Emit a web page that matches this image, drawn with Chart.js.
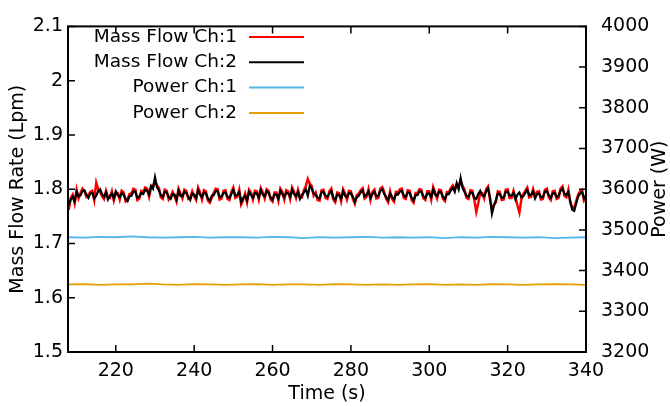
<!DOCTYPE html>
<html>
<head>
<meta charset="utf-8">
<script src="https://cdn.jsdelivr.net/npm/chart.js@4.4.1/dist/chart.umd.min.js"></script>
<style>
  body { margin: 0; background: #fff; }
  canvas { display: block; }
</style>
</head>
<body>
<canvas id="myChart" width="670" height="407"></canvas>
<script>
// sampling of the traces (s)
const flowStart = 208, flowStep = 0.5;
const powerStart = 208, powerStep = 4;

// Mass flow, channel 1 (Lpm), 10 s per row
const massFlowCh1 = [
  1.762,1.784,1.790,1.774,1.799,1.783,1.793,1.801,1.796,1.786,1.789,1.795,1.797,1.780,1.812,1.800,1.795,1.787,1.782,1.797,
  1.785,1.784,1.796,1.779,1.793,1.793,1.781,1.797,1.794,1.778,1.782,1.791,1.792,1.801,1.799,1.780,1.783,1.797,1.795,1.803,
  1.801,1.786,1.804,1.806,1.815,1.807,1.802,1.785,1.782,1.799,1.797,1.781,1.786,1.795,1.787,1.777,1.801,1.792,1.783,1.799,
  1.797,1.782,1.784,1.796,1.787,1.780,1.803,1.794,1.781,1.798,1.796,1.779,1.775,1.784,1.793,1.801,1.800,1.781,1.783,1.797,
  1.798,1.782,1.780,1.795,1.803,1.784,1.786,1.799,1.772,1.780,1.792,1.776,1.799,1.794,1.781,1.797,1.796,1.781,1.802,1.794,
  1.783,1.800,1.797,1.781,1.777,1.794,1.794,1.779,1.801,1.795,1.781,1.798,1.796,1.782,1.803,1.795,1.784,1.799,1.786,1.785,
  1.798,1.806,1.819,1.810,1.806,1.788,1.794,1.780,1.779,1.798,1.799,1.784,1.782,1.796,1.801,1.781,1.776,1.794,1.793,1.778,
  1.800,1.792,1.781,1.797,1.796,1.782,1.773,1.789,1.792,1.798,1.802,1.783,1.786,1.800,1.780,1.795,1.799,1.783,1.784,1.801,
  1.804,1.795,1.782,1.776,1.796,1.782,1.777,1.795,1.794,1.800,1.801,1.784,1.782,1.798,1.797,1.780,1.775,1.793,1.793,1.800,
  1.799,1.783,1.780,1.796,1.796,1.781,1.804,1.794,1.783,1.799,1.798,1.782,1.778,1.795,1.795,1.802,1.807,1.799,1.809,1.804,
  1.816,1.806,1.799,1.784,1.782,1.798,1.797,1.780,1.758,1.774,1.793,1.793,1.783,1.800,1.805,1.781,1.762,1.771,1.776,1.796,
  1.795,1.780,1.781,1.799,1.800,1.784,1.784,1.797,1.785,1.770,1.757,1.781,1.791,1.797,1.803,1.785,1.786,1.800,1.787,1.795,
  1.796,1.781,1.782,1.799,1.801,1.785,1.780,1.796,1.797,1.782,1.784,1.801,1.805,1.788,1.785,1.799,1.774,1.766,1.766,1.778,
  1.790,1.796,1.799,1.779,1.784
];

// Mass flow, channel 2 (Lpm), 10 s per row
const massFlowCh2 = [
  1.770,1.781,1.786,1.778,1.795,1.787,1.789,1.797,1.798,1.790,1.784,1.792,1.793,1.783,1.788,1.796,1.800,1.791,1.786,1.794,
  1.781,1.788,1.792,1.783,1.796,1.789,1.785,1.793,1.790,1.782,1.778,1.787,1.788,1.796,1.795,1.784,1.786,1.793,1.791,1.799,
  1.797,1.790,1.806,1.801,1.822,1.804,1.798,1.789,1.786,1.795,1.794,1.785,1.782,1.791,1.790,1.781,1.797,1.788,1.787,1.795,
  1.793,1.786,1.780,1.792,1.790,1.784,1.798,1.790,1.785,1.794,1.792,1.783,1.779,1.788,1.789,1.797,1.796,1.785,1.787,1.793,
  1.794,1.786,1.784,1.791,1.799,1.788,1.789,1.795,1.776,1.784,1.788,1.779,1.795,1.790,1.784,1.793,1.792,1.785,1.798,1.790,
  1.787,1.796,1.793,1.785,1.781,1.790,1.790,1.783,1.797,1.791,1.785,1.794,1.792,1.786,1.799,1.791,1.787,1.795,1.782,1.789,
  1.794,1.800,1.788,1.806,1.801,1.792,1.790,1.784,1.783,1.794,1.795,1.788,1.786,1.792,1.797,1.785,1.780,1.790,1.789,1.782,
  1.796,1.788,1.785,1.793,1.792,1.786,1.777,1.785,1.788,1.794,1.798,1.787,1.790,1.796,1.784,1.791,1.795,1.787,1.788,1.797,
  1.800,1.791,1.786,1.780,1.792,1.786,1.781,1.791,1.790,1.796,1.797,1.788,1.786,1.794,1.793,1.784,1.779,1.789,1.789,1.796,
  1.795,1.787,1.784,1.792,1.792,1.785,1.800,1.790,1.787,1.795,1.794,1.786,1.782,1.791,1.791,1.798,1.803,1.795,1.811,1.800,
  1.821,1.802,1.795,1.788,1.786,1.794,1.793,1.784,1.782,1.791,1.797,1.789,1.787,1.796,1.801,1.785,1.755,1.770,1.780,1.792,
  1.791,1.784,1.785,1.795,1.796,1.788,1.788,1.793,1.781,1.790,1.794,1.785,1.787,1.793,1.799,1.789,1.790,1.796,1.783,1.791,
  1.792,1.785,1.786,1.795,1.797,1.789,1.784,1.792,1.793,1.786,1.788,1.797,1.801,1.792,1.789,1.795,1.778,1.762,1.760,1.774,
  1.786,1.792,1.795,1.783,1.788
];

// Power (W)
const powerCh1 = [3482,3481,3483,3482,3484,3482,3481,3482,3483,3481,3482,3482,3481,3483,3482,3480,3482,
                  3481,3482,3483,3481,3482,3481,3482,3480,3482,3481,3483,3482,3481,3482,3480,3481,3482];
const powerCh2 = [3366,3367,3365,3366,3366,3368,3366,3365,3367,3366,3365,3366,3367,3365,3366,3366,3365,
                  3367,3366,3365,3366,3365,3366,3367,3365,3366,3365,3367,3366,3365,3366,3367,3366,3365];

const seriesNames = ["Mass Flow Ch:1", "Mass Flow Ch:2", "Power Ch:1", "Power Ch:2"];

// axes
const xTicks = [220, 240, 260, 280, 300, 320, 340];
const yTicks = [1.5, 1.6, 1.7, 1.8, 1.9, 2.0, 2.1];
const yTickLabels = ["1.5", "1.6", "1.7", "1.8", "1.9", "2", "2.1"];
const y2Ticks = [3200, 3300, 3400, 3500, 3600, 3700, 3800, 3900, 4000];

const FONT = "'DejaVu Sans', Verdana, sans-serif";
const FONT_SIZE = 19;

function toPoints(values, start, step) {
    return values.map((v, i) => ({ x: start + i * step, y: v }));
}

// gnuplot style frame, inward ticks, legend and right title
const gnuplotDecor = {
    id: "gnuplotDecor",
    afterDatasetsDraw(chart) {
        const ctx = chart.ctx;
        const { left, right, top, bottom } = chart.chartArea;
        const sx = chart.scales.x, sy = chart.scales.y, sy2 = chart.scales.y2;
        const tick = 7;
        ctx.save();
        ctx.strokeStyle = "#000";
        ctx.lineWidth = 1.5;
        ctx.beginPath();
        xTicks.forEach(v => {
            const px = sx.getPixelForValue(v);
            ctx.moveTo(px, bottom); ctx.lineTo(px, bottom - tick);
            ctx.moveTo(px, top); ctx.lineTo(px, top + tick);
        });
        yTicks.forEach(v => {
            const py = sy.getPixelForValue(v);
            ctx.moveTo(left, py); ctx.lineTo(left + tick, py);
        });
        y2Ticks.forEach(v => {
            const py = sy2.getPixelForValue(v);
            ctx.moveTo(right, py); ctx.lineTo(right - tick, py);
        });
        ctx.stroke();

        ctx.lineWidth = 2;
        ctx.strokeRect(left, top, right - left, bottom - top);

        // legend
        ctx.font = "18.5px " + FONT;
        ctx.textAlign = "right";
        ctx.textBaseline = "middle";
        chart.data.datasets.forEach((ds, i) => {
            const y = 37 + i * 25.3;
            ctx.fillStyle = "#000";
            ctx.fillText(ds.label, 237, y);
            ctx.strokeStyle = ds.borderColor;
            ctx.lineWidth = 2;
            ctx.beginPath();
            ctx.moveTo(249, y); ctx.lineTo(304, y);
            ctx.stroke();
        });

        // right axis title, reading bottom to top
        ctx.font = FONT_SIZE + "px " + FONT;
        ctx.fillStyle = "#000";
        ctx.textAlign = "center";
        ctx.translate(660, (top + bottom) / 2);
        ctx.rotate(-Math.PI / 2);
        ctx.fillText("Power (W)", 0, 0);
        ctx.restore();
    },
};

const ctx = document.getElementById("myChart");
const data = {
    datasets: [
        {
            label: seriesNames[0],
            data: toPoints(massFlowCh1, flowStart, flowStep),
            borderColor: "#ff0000",
            borderWidth: 2.5,
            yAxisID: "y",
            order: 2,
        },
        {
            label: seriesNames[1],
            data: toPoints(massFlowCh2, flowStart, flowStep),
            borderColor: "#000000",
            borderWidth: 2.2,
            yAxisID: "y",
            order: 1,
        },
        {
            label: seriesNames[2],
            data: toPoints(powerCh1, powerStart, powerStep),
            borderColor: "#56b4e9",
            borderWidth: 1.8,
            yAxisID: "y2",
            order: 3,
        },
        {
            label: seriesNames[3],
            data: toPoints(powerCh2, powerStart, powerStep),
            borderColor: "#e69f00",
            borderWidth: 1.8,
            yAxisID: "y2",
            order: 4,
        },
    ],
};

const tickFont = { family: FONT, size: FONT_SIZE };
const noGrid = { display: false, drawTicks: false };

const config = {
    type: "line",
    data: data,
    options: {
        responsive: false,
        animation: false,
        elements: { point: { radius: 0 }, line: { tension: 0 } },
        layout: { padding: { top: 17, left: 0, right: 0, bottom: 0 } },
        plugins: {
            legend: { display: false },
            tooltip: { enabled: false },
        },
        scales: {
            x: {
                type: "linear",
                min: 207.8,
                max: 340,
                grid: noGrid,
                border: { display: false },
                afterBuildTicks: (scale) => { scale.ticks = xTicks.map(v => ({ value: v })); },
                afterFit: (scale) => { scale.height = 55; },
                ticks: { font: tickFont, color: "#000", padding: 8, maxRotation: 0 },
                title: {
                    display: true,
                    text: "Time (s)",
                    font: tickFont,
                    color: "#000",
                    padding: { top: 0, bottom: 2 },
                },
            },
            y: {
                type: "linear",
                position: "left",
                min: 1.5,
                max: 2.1,
                grid: noGrid,
                border: { display: false },
                afterBuildTicks: (scale) => { scale.ticks = yTicks.map(v => ({ value: v })); },
                afterFit: (scale) => { scale.width = 68; },
                ticks: {
                    font: tickFont,
                    color: "#000",
                    padding: 5,
                    callback: (v, i) => yTickLabels[i],
                },
                title: {
                    display: true,
                    text: "Mass Flow Rate (Lpm)",
                    font: tickFont,
                    color: "#000",
                    padding: { top: 7, bottom: 0 },
                },
            },
            y2: {
                type: "linear",
                position: "right",
                min: 3200,
                max: 4000,
                grid: noGrid,
                border: { display: false },
                afterBuildTicks: (scale) => { scale.ticks = y2Ticks.map(v => ({ value: v })); },
                afterFit: (scale) => { scale.width = 84; },
                ticks: { font: tickFont, color: "#000", padding: 15, callback: (v) => String(v) },
            },
        },
    },
    plugins: [gnuplotDecor],
};

const myChart = new Chart(ctx, config);
</script>
</body>
</html>
